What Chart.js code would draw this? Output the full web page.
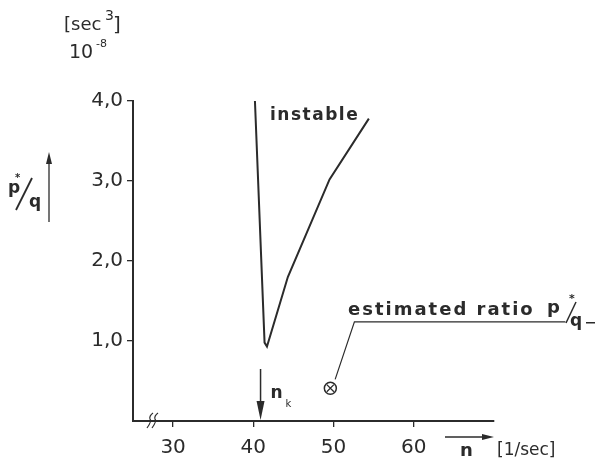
<!DOCTYPE html>
<html>
<head>
<meta charset="utf-8">
<script src="https://cdn.jsdelivr.net/npm/chart.js@4"></script>
<style>
  html, body { margin: 0; padding: 0; background: #fff; }
  #wrap { width: 597px; height: 464px; }
</style>
</head>
<body>
<div id="wrap"><canvas id="c" width="597" height="464"></canvas></div>
<script>
// rotational speed n [1/sec] vs. ratio p*/q [sec^3 * 10^-8]
const curveN = [40.2, 41.4, 41.7, 44.3, 49.5, 54.4];
const curveP = [4.0, 0.98, 0.93, 1.8, 3.02, 3.78];

const estN = [49.6];
const estP = [0.41];

// leader line from the marker to the label
const leaderN = [50.2, 52.6, 78.9];
const leaderP = [0.52, 1.24, 1.24];

const nk = 40.9;

const xTicks = [30, 40, 50, 60];
const yTicks = [1, 2, 3, 4];

const INK = '#2b2b2b';

function pts(xs, ys) { return xs.map((x, i) => ({ x, y: ys[i] })); }

// text, arrows, unit labels
const extras = {
  id: 'extras',
  afterDraw(chart) {
    const ctx = chart.ctx;
    const xs = chart.scales.x;
    const ys = chart.scales.y;
    ctx.save();
    ctx.fillStyle = INK;
    ctx.strokeStyle = INK;
    ctx.textBaseline = 'alphabetic';

    // instable
    ctx.font = 'bold 17px "DejaVu Sans"';
    ctx.letterSpacing = '1.5px';
    ctx.fillText('instable', 270, 120);

    // estimated ratio p*/q_
    ctx.font = 'bold 18px "DejaVu Sans"';
    ctx.letterSpacing = '2px';
    ctx.fillText('estimated ratio', 348, 315);
    ctx.letterSpacing = '0px';
    ctx.fillText('p', 547, 313);
    ctx.font = 'bold 11px "DejaVu Sans"';
    ctx.fillText('*', 569, 302);
    ctx.lineWidth = 1.5;
    ctx.beginPath(); ctx.moveTo(576, 302); ctx.lineTo(566, 323); ctx.stroke();
    ctx.font = 'bold 17px "DejaVu Sans"';
    ctx.fillText('q', 570, 326);
    ctx.fillRect(586, 322, 9, 1.5);

    // n_k arrow
    const px = xs.getPixelForValue(nk);
    const base = ys.getPixelForValue(0);
    ctx.lineWidth = 1.5;
    ctx.beginPath(); ctx.moveTo(px, base - 52); ctx.lineTo(px, base - 10); ctx.stroke();
    ctx.beginPath();
    ctx.moveTo(px - 4, base - 20); ctx.lineTo(px + 4, base - 20); ctx.lineTo(px, base - 1); ctx.closePath();
    ctx.fill();
    ctx.font = 'bold 17px "DejaVu Sans"';
    ctx.fillText('n', px + 10, base - 23);
    ctx.font = '10px "DejaVu Sans"';
    ctx.fillText('k', px + 25, base - 14);

    // axis break
    ctx.lineWidth = 1.2;
    [0, 5].forEach(d => {
      ctx.beginPath();
      ctx.moveTo(147 + d, base + 7);
      ctx.quadraticCurveTo(152 + d, base, 150 + d, base - 2);
      ctx.quadraticCurveTo(149 + d, base - 5, 153 + d, base - 8);
      ctx.stroke();
    });

    // x axis label with arrow
    ctx.lineWidth = 1.3;
    ctx.beginPath(); ctx.moveTo(445, 437); ctx.lineTo(486, 437); ctx.stroke();
    ctx.beginPath(); ctx.moveTo(494, 437); ctx.lineTo(482, 434); ctx.lineTo(482, 440); ctx.closePath(); ctx.fill();
    ctx.font = 'bold 18px "DejaVu Sans"';
    ctx.fillText('n', 460, 456);
    ctx.font = '17px "DejaVu Sans"';
    ctx.fillText('[1/sec]', 497, 455);

    // y axis label with arrow
    ctx.font = 'bold 17px "DejaVu Sans"';
    ctx.fillText('p', 8, 193);
    ctx.font = 'bold 10px "DejaVu Sans"';
    ctx.fillText('*', 15, 181);
    ctx.lineWidth = 1.8;
    ctx.beginPath(); ctx.moveTo(32, 178); ctx.lineTo(16, 210); ctx.stroke();
    ctx.font = 'bold 17px "DejaVu Sans"';
    ctx.fillText('q', 29, 207);
    ctx.lineWidth = 1.3;
    ctx.beginPath(); ctx.moveTo(49, 222); ctx.lineTo(49, 160); ctx.stroke();
    ctx.beginPath(); ctx.moveTo(49, 152); ctx.lineTo(46, 164); ctx.lineTo(52, 164); ctx.closePath(); ctx.fill();

    // units of y
    ctx.font = '18px "DejaVu Sans"';
    ctx.fillText('[sec', 64, 30);
    ctx.font = '14px "DejaVu Sans"';
    ctx.fillText('3', 105, 20);
    ctx.font = '20px "DejaVu Sans"';
    ctx.fillText(']', 113, 31);
    ctx.font = '19px "DejaVu Sans"';
    ctx.fillText('10', 69, 58);
    ctx.font = '11px "DejaVu Sans"';
    ctx.fillText('-8', 96, 47);

    ctx.restore();
  }
};

new Chart(document.getElementById('c'), {
  type: 'scatter',
  data: {
    datasets: [{
      data: pts(curveN, curveP),
      showLine: true,
      borderColor: INK,
      borderWidth: 2,
      pointRadius: 0,
      tension: 0
    }, {
      data: pts(leaderN, leaderP),
      showLine: true,
      borderColor: INK,
      borderWidth: 1.2,
      pointRadius: 0,
      clip: false
    }, {
      data: pts(estN, estP),
      pointStyle: 'circle',
      pointRadius: 6,
      borderColor: INK,
      borderWidth: 1.5,
      backgroundColor: 'rgba(0,0,0,0)'
    }, {
      data: pts(estN, estP),
      pointStyle: 'crossRot',
      pointRadius: 5,
      borderColor: INK,
      borderWidth: 1.3
    }]
  },
  options: {
    responsive: false,
    animation: false,
    layout: { padding: { left: 0, right: 103, top: 101, bottom: 0 } },
    plugins: { legend: { display: false }, tooltip: { enabled: false } },
    scales: {
      x: {
        type: 'linear',
        min: 25, max: 70,
        afterBuildTicks(s) { s.ticks = xTicks.map(v => ({ value: v })); },
        afterFit(s) { s.height = 43; },
        border: { display: true, color: INK, width: 2 },
        grid: { drawOnChartArea: false, drawTicks: true, tickLength: 6, color: INK, lineWidth: 1.3 },
        ticks: { color: INK, font: { family: 'DejaVu Sans', size: 20 }, padding: 9 }
      },
      y: {
        min: 0, max: 4,
        afterBuildTicks(s) { s.ticks = yTicks.map(v => ({ value: v })); },
        afterFit(s) { s.width = 133; },
        border: { display: true, color: INK, width: 2 },
        grid: { drawOnChartArea: false, drawTicks: true, tickLength: 6, color: INK, lineWidth: 1.3 },
        ticks: {
          color: INK, font: { family: 'DejaVu Sans', size: 20 }, padding: 4,
          callback: v => v.toFixed(1).replace('.', ',')
        }
      }
    }
  },
  plugins: [extras]
});
</script>
</body>
</html>
